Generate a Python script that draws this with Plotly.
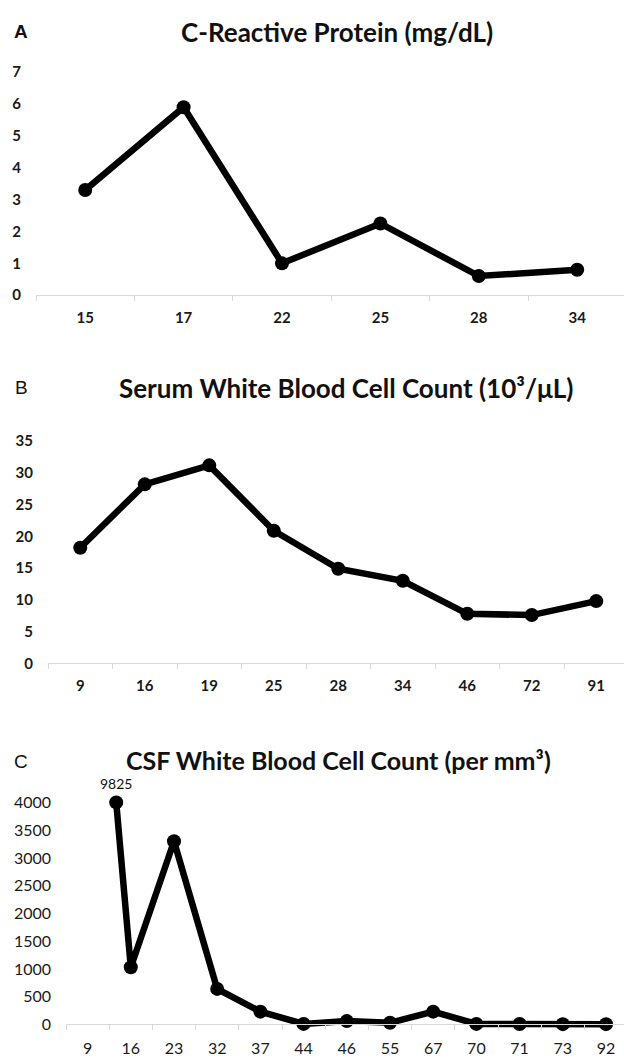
import plotly.graph_objects as go

W, H = 624, 1061

# ---- data ----
crp_days = ["15", "17", "22", "25", "28", "34"]
crp_values = [3.3, 5.9, 1.0, 2.25, 0.6, 0.8]

serum_days = ["9", "16", "19", "25", "28", "34", "46", "72", "91"]
serum_values = [18.2, 28.2, 31.2, 20.9, 14.9, 13.0, 7.8, 7.6, 9.8]

csf_days = ["9", "16", "23", "32", "37", "44", "46", "55", "67", "70", "71", "73", "92"]
csf_values = [9825, 1030, 3300, 640, 230, 10, 60, 30, 230, 10, 8, 5, 5]

# ---- layout / style per panel (pixel positions) ----
panels = [
    dict(letter="A", letter_bold=True, title="C-Reactive Protein (mg/dL)",
         days=crp_days, values=crp_values, ymax=7, dtick=1,
         left=36, catw=98.4, top=63, zero=289, title_x=337, title_y=22, title_size=26,
         letter_y=22, tick_bold=True, yfont=15, xfont=15),
    dict(letter="B", letter_bold=False, title="Serum White Blood Cell Count (10³/μL)",
         days=serum_days, values=serum_values, ymax=35, dtick=5,
         left=48, catw=64.5, top=437, zero=662, title_x=346, title_y=383, title_size=26,
         letter_y=383, tick_bold=True, yfont=15, xfont=15),
    dict(letter="C", letter_bold=False, title="CSF White Blood Cell Count (per mm³)",
         days=csf_days, values=csf_values, ymax=4000, dtick=500,
         left=66, catw=43.2, top=803, zero=1028, title_x=338, title_y=760, title_size=25,
         letter_y=762, tick_bold=False, yfont=16, xfont=16),
]

FONT = "Lato"
AXIS_GRAY = "#d9d9d9"
PAD_PX = 5

fig = go.Figure()
annotations = []

for i, p in enumerate(panels, start=1):
    xa = "x" if i == 1 else f"x{i}"
    ya = "y" if i == 1 else f"y{i}"
    n = len(p["days"])
    xs = list(range(n))
    vals = p["values"]
    ymax = p["ymax"]

    # line (clipped to the plot area)
    fig.add_trace(go.Scatter(x=xs, y=vals, mode="lines", xaxis=xa, yaxis=ya,
                             line=dict(color="black", width=6.5),
                             hoverinfo="skip", showlegend=False))
    # markers within range
    inx = [x for x, v in zip(xs, vals) if v <= ymax]
    iny = [v for v in vals if v <= ymax]
    fig.add_trace(go.Scatter(x=inx, y=iny, mode="markers", xaxis=xa, yaxis=ya,
                             marker=dict(color="black", size=14),
                             cliponaxis=False, hoverinfo="skip", showlegend=False))
    # off-scale points: marker where the line crosses the top, labelled with value
    for k in range(n - 1):
        a, b = vals[k], vals[k + 1]
        if a > ymax >= b:
            xc = k + (a - ymax) / (a - b)
            fig.add_trace(go.Scatter(x=[xc], y=[ymax], mode="markers+text",
                                     text=[str(a)], textposition="top center",
                                     textfont=dict(family=FONT, size=14, color="#111"),
                                     xaxis=xa, yaxis=ya,
                                     marker=dict(color="black", size=14),
                                     cliponaxis=False, hoverinfo="skip", showlegend=False))

    span = p["zero"] - p["top"]
    ymin = -PAD_PX * ymax / span
    xkey = "xaxis" if i == 1 else f"xaxis{i}"
    ykey = "yaxis" if i == 1 else f"yaxis{i}"
    weight = "bold" if p["tick_bold"] else "normal"

    fig.update_layout({
        xkey: dict(
            domain=[p["left"] / W, 1],
            range=[-0.5, -0.5 + (W - p["left"]) / p["catw"]],
            anchor="free", position=1 - p["zero"] / H,
            tickmode="array", tickvals=xs, ticktext=p["days"],
            showline=True, linecolor=AXIS_GRAY, linewidth=1,
            ticks="", showgrid=False, zeroline=False,
            minor=dict(tickmode="array", tickvals=[k - 0.5 for k in range(n + 1)],
                       ticks="outside", ticklen=5, tickwidth=1, tickcolor=AXIS_GRAY,
                       showgrid=False),
            tickfont=dict(family=FONT, size=p["xfont"], color="#1a1a1a", weight=weight),
            ticklabelstandoff=9, fixedrange=True,
        ),
        ykey: dict(
            domain=[1 - (p["zero"] + PAD_PX) / H, 1 - p["top"] / H],
            range=[ymin, ymax], anchor=xa,
            tickmode="array", tickvals=list(range(0, ymax + 1, p["dtick"])),
            showline=False, ticks="", showgrid=False, zeroline=False,
            tickfont=dict(family=FONT, size=p["yfont"], color="#1a1a1a", weight=weight),
            ticklabelstandoff=14, fixedrange=True,
        ),
    })

    annotations.append(dict(text=p["title"], xref="paper", yref="paper",
                            x=p["title_x"] / W, y=1 - p["title_y"] / H,
                            xanchor="center", yanchor="middle", showarrow=False,
                            font=dict(family=FONT, size=p["title_size"], color="#111",
                                      weight="bold")))
    annotations.append(dict(text=p["letter"], xref="paper", yref="paper",
                            x=21 / W, y=1 - p["letter_y"] / H,
                            xanchor="center", yanchor="middle", showarrow=False,
                            font=dict(family="Liberation Sans", size=19, color="#111",
                                      weight="bold" if p["letter_bold"] else "normal")))

fig.update_layout(width=W, height=H, margin=dict(l=0, r=0, t=0, b=0),
                  paper_bgcolor="white", plot_bgcolor="white",
                  annotations=annotations, showlegend=False)

fig.write_html("out.html", config={"displayModeBar": False},
               post_script="document.body.style.margin='0';document.body.style.overflow='hidden';")
